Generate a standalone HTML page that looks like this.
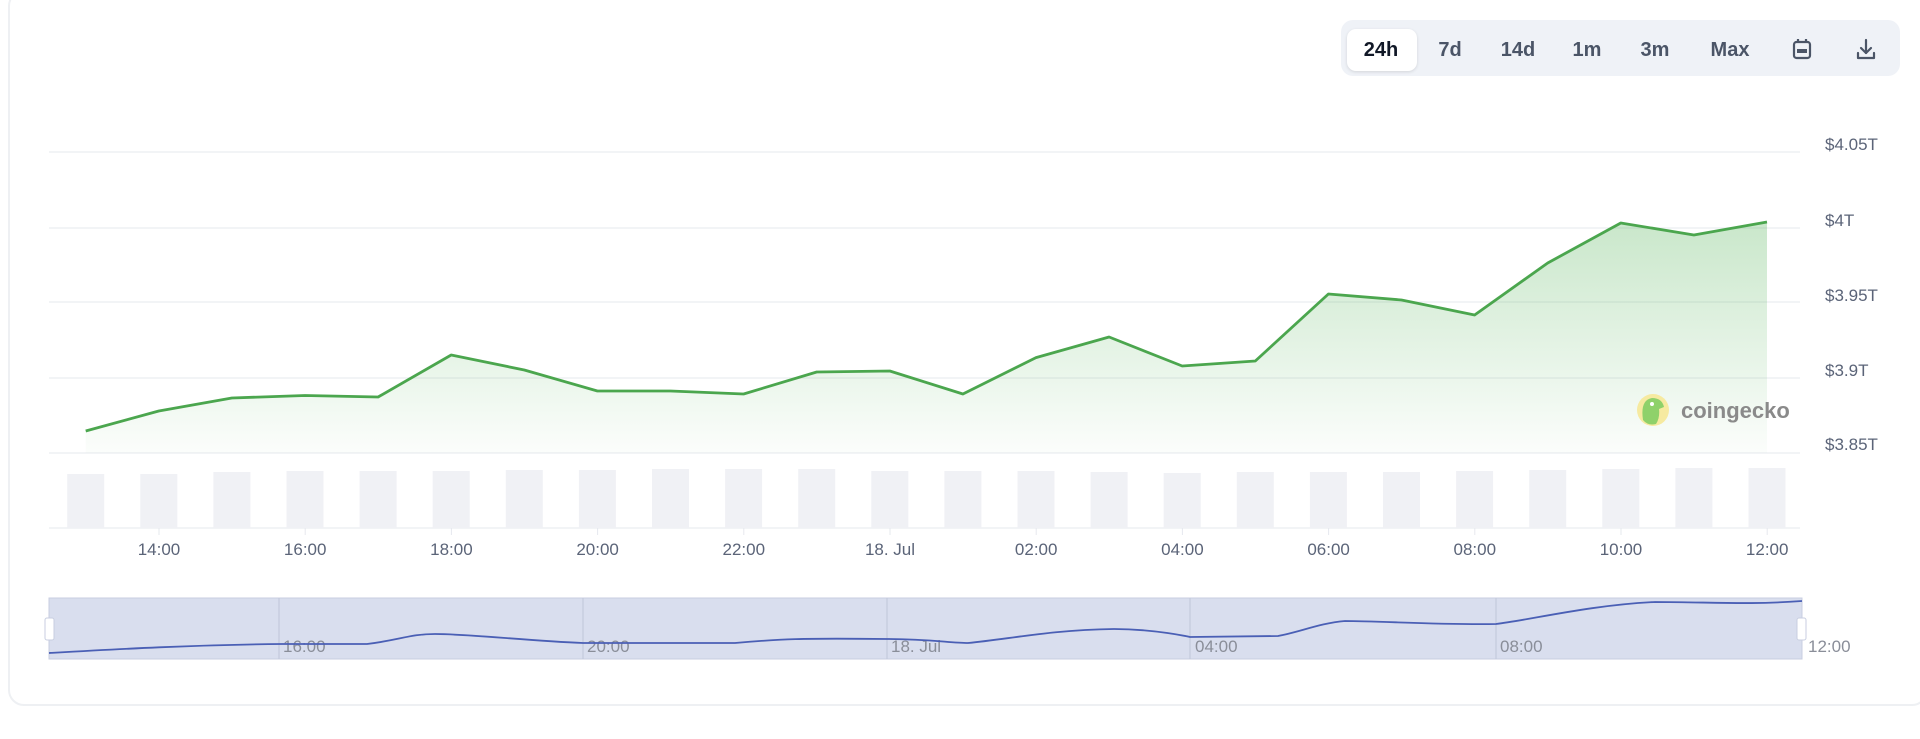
<!DOCTYPE html>
<html><head><meta charset="utf-8"><style>
html,body{margin:0;padding:0;background:#fff;width:1920px;height:739px;overflow:hidden;font-family:"Liberation Sans",sans-serif}
.card{position:absolute;left:8px;top:-10px;width:1920px;height:716px;border:2px solid #eef0f3;border-radius:16px;box-sizing:border-box}
.bar{position:absolute;left:1341px;top:20px;width:559px;height:56px;background:#eff2f7;border-radius:12px}
.btn{position:absolute;top:30px;height:40px;line-height:40px;font-size:20px;font-weight:bold;color:#4b5567;text-align:center;transform:translateX(-50%)}
.act{position:absolute;left:1347px;top:29px;width:70px;height:42px;background:#fff;border-radius:9px;box-shadow:0 1px 3px rgba(0,0,0,.12)}
</style></head><body>
<div class="card"></div>
<div class="bar"></div>
<div class="act"></div>
<div class="btn" style="left:1381px;color:#111827">24h</div>
<div class="btn" style="left:1450px">7d</div>
<div class="btn" style="left:1518px">14d</div>
<div class="btn" style="left:1587px">1m</div>
<div class="btn" style="left:1655px">3m</div>
<div class="btn" style="left:1730px">Max</div>
<svg style="position:absolute;left:0;top:0" width="1920" height="739">
<defs><linearGradient id="g" x1="0" y1="0" x2="0" y2="1"><stop offset="0" stop-color="#4caf50" stop-opacity="0.3"/><stop offset="1" stop-color="#4caf50" stop-opacity="0.02"/></linearGradient></defs>
<!-- calendar icon -->
<g stroke="#4b5567" stroke-width="2.2" fill="none"><rect x="1794" y="42" width="16" height="16" rx="2.5"/><line x1="1798" y1="39" x2="1798" y2="43"/><line x1="1806" y1="39" x2="1806" y2="43"/></g>
<rect x="1797" y="49" width="10" height="4" fill="#4b5567"/>
<!-- download icon -->
<g stroke="#4b5567" stroke-width="2.2" fill="none" stroke-linecap="round" stroke-linejoin="round"><line x1="1866" y1="40" x2="1866" y2="53"/><polyline points="1861,48 1866,53 1871,48"/><polyline points="1858,53 1858,58 1874,58 1874,53"/></g>
<g stroke="#eef0f3" stroke-width="1.5"><line x1="49" y1="152" x2="1800" y2="152"/><line x1="49" y1="228" x2="1800" y2="228"/><line x1="49" y1="302" x2="1800" y2="302"/><line x1="49" y1="378" x2="1800" y2="378"/><line x1="49" y1="453" x2="1800" y2="453"/><line x1="49" y1="528" x2="1800" y2="528"/></g>
<g font-size="17" fill="#5b6478"><text x="1825" y="150">$4.05T</text><text x="1825" y="226">$4T</text><text x="1825" y="301">$3.95T</text><text x="1825" y="376">$3.9T</text><text x="1825" y="450">$3.85T</text></g>
<g fill="#f0f1f5" id="vb"></g>
<path id="area" fill="url(#g)"/>
<polyline id="ln" fill="none" stroke="#4ba64e" stroke-width="2.8" stroke-linejoin="round"/>
<circle cx="1653" cy="410" r="16" fill="#f6eaa0"/>
<path d="M1643 420 Q1640 400 1652 398 Q1662 398 1664 407 L1659 409 Q1660 418 1656 424 Q1648 426 1643 420Z" fill="#8fd16a"/>
<circle cx="1652" cy="404" r="2" fill="#fff"/>
<text x="1681" y="418" font-size="22" font-weight="bold" fill="#8a8a8a">coingecko</text>
<g font-size="17" fill="#5b6478" text-anchor="middle" id="xl"></g>
<rect x="49" y="598" width="1753" height="61" fill="#d9deee" stroke="#c8cee0"/>
<g stroke="#c3c9dc" stroke-width="1.2"><line x1="279" y1="598" x2="279" y2="659"/><line x1="583" y1="598" x2="583" y2="659"/><line x1="887" y1="598" x2="887" y2="659"/><line x1="1190" y1="598" x2="1190" y2="659"/><line x1="1496" y1="598" x2="1496" y2="659"/></g>
<g font-size="17" fill="#8a8e99"><text x="283" y="652">16:00</text><text x="587" y="652">20:00</text><text x="891" y="652">18. Jul</text><text x="1195" y="652">04:00</text><text x="1500" y="652">08:00</text><text x="1808" y="652">12:00</text></g>
<path d="M49 653 C120 649 190 645 282 644 L367 644 C400 640 410 634 435 634 C470 634 530 641 583 643 L735 643 C780 639 800 638 887 639 C930 639 950 643 968 643 C1010 639 1050 630 1114 629 C1155 629 1190 637 1190 637 L1278 636 C1300 632 1320 623 1345 621 C1380 621 1440 625 1496 624 C1530 620 1590 605 1655 602 C1710 602 1750 605 1802 601" fill="none" stroke="#4a5fb5" stroke-width="1.8"/>
<rect x="45" y="618" width="9" height="22" rx="2" fill="#fff" stroke="#c8cee0"/>
<rect x="1797" y="618" width="9" height="22" rx="2" fill="#fff" stroke="#c8cee0"/>
</svg>
<script>
var ys=[431,411,398,395.5,397,355,370,391,391,394,372,371,394,357.6,337,366,361,294,300,315,263,223,235,222];
var tops=[474,474,472,471,471,471,470,470,469,469,469,471,471,471,472,473,472,472,472,471,470,469,468,468];
var pts=[],vb='';
for(var i=0;i<24;i++){var x=85.7+i*73.1;pts.push(x.toFixed(1)+','+ys[i]);vb+='<rect x="'+(x-18.5)+'" y="'+tops[i]+'" width="37" height="'+(528-tops[i])+'"/>';}
document.getElementById('ln').setAttribute('points',pts.join(' '));
document.getElementById('area').setAttribute('d','M85.7,453 L'+pts.join(' L')+' L'+(85.7+23*73.1)+',453Z');
document.getElementById('vb').innerHTML=vb;
var lab=['14:00','16:00','18:00','20:00','22:00','18. Jul','02:00','04:00','06:00','08:00','10:00','12:00'],xl='';
for(var k=0;k<12;k++){var x=159+k*146.2;xl+='<text x="'+x+'" y="555">'+lab[k]+'</text><line x1="'+x+'" y1="528" x2="'+x+'" y2="535" stroke="#e6e8ee"/>';}
document.getElementById('xl').innerHTML=xl;
</script>
</body></html>
